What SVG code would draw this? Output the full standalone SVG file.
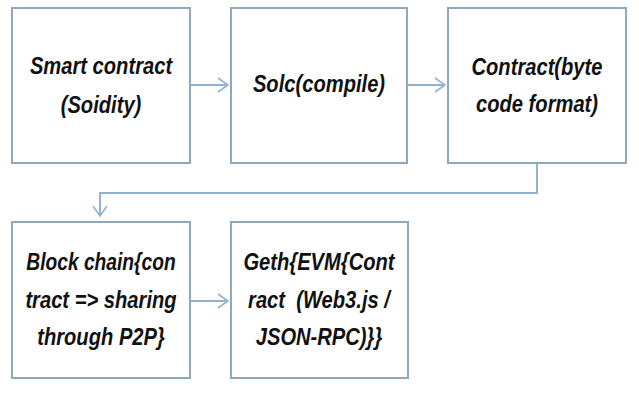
<svg xmlns="http://www.w3.org/2000/svg" width="639" height="400" viewBox="0 0 639 400">
<defs>
<style>
.box{fill:#ffffff;stroke:#8fa8bf;stroke-width:2}
.lbl{font-family:"Liberation Sans",Arial,sans-serif;font-style:italic;font-weight:bold;font-size:24px;fill:#111;text-anchor:middle}
.con{fill:none;stroke:#93b2d2;stroke-width:2}
</style>
<marker id="arr" viewBox="0 0 12 16" refX="11" refY="8" markerWidth="12" markerHeight="16" markerUnits="userSpaceOnUse" orient="auto">
<path d="M1,1 L11,8 L1,15" fill="none" stroke="#93b2d2" stroke-width="1.6"/>
</marker>
</defs>
<rect width="639" height="400" fill="#ffffff"/>
<g id="connectors">
<line class="con" x1="191" y1="85" x2="228" y2="85" marker-end="url(#arr)"/>
<line class="con" x1="408" y1="85" x2="445" y2="85" marker-end="url(#arr)"/>
<polyline class="con" points="537,164 537,193 100,193 100,216" marker-end="url(#arr)"/>
<line class="con" x1="191" y1="301" x2="228" y2="301" marker-end="url(#arr)"/>
</g>
<g id="n1">
<rect class="box" x="12" y="8" width="178" height="155"/>
<text class="lbl" transform="matrix(0.84 0 0 1 101 74)">Smart contract</text>
<text class="lbl" transform="matrix(0.84 0 0 1 101 113)">(Soidity)</text>
</g>
<g id="n2">
<rect class="box" x="231" y="8" width="176" height="155"/>
<text class="lbl" transform="matrix(0.84 0 0 1 319 92)">Solc(compile)</text>
</g>
<g id="n3">
<rect class="box" x="448" y="8" width="178" height="155"/>
<text class="lbl" transform="matrix(0.84 0 0 1 537 75)">Contract(byte</text>
<text class="lbl" transform="matrix(0.84 0 0 1 537 112)">code format)</text>
</g>
<g id="n4">
<rect class="box" x="12" y="222" width="178" height="156"/>
<text class="lbl" transform="matrix(0.8 0 0 1 101 270)">Block chain{con</text>
<text class="lbl" transform="matrix(0.84 0 0 1 101 308)">tract =&gt; sharing</text>
<text class="lbl" transform="matrix(0.84 0 0 1 101 345)">through P2P}</text>
</g>
<g id="n5">
<rect class="box" x="231" y="222" width="177" height="156"/>
<text class="lbl" transform="matrix(0.84 0 0 1 319 270)">Geth{EVM{Cont</text>
<text class="lbl" transform="matrix(0.84 0 0 1 319 308)" xml:space="preserve">ract  (Web3.js /</text>
<text class="lbl" transform="matrix(0.84 0 0 1 319 345)">JSON-RPC)}}</text>
</g>
</svg>
